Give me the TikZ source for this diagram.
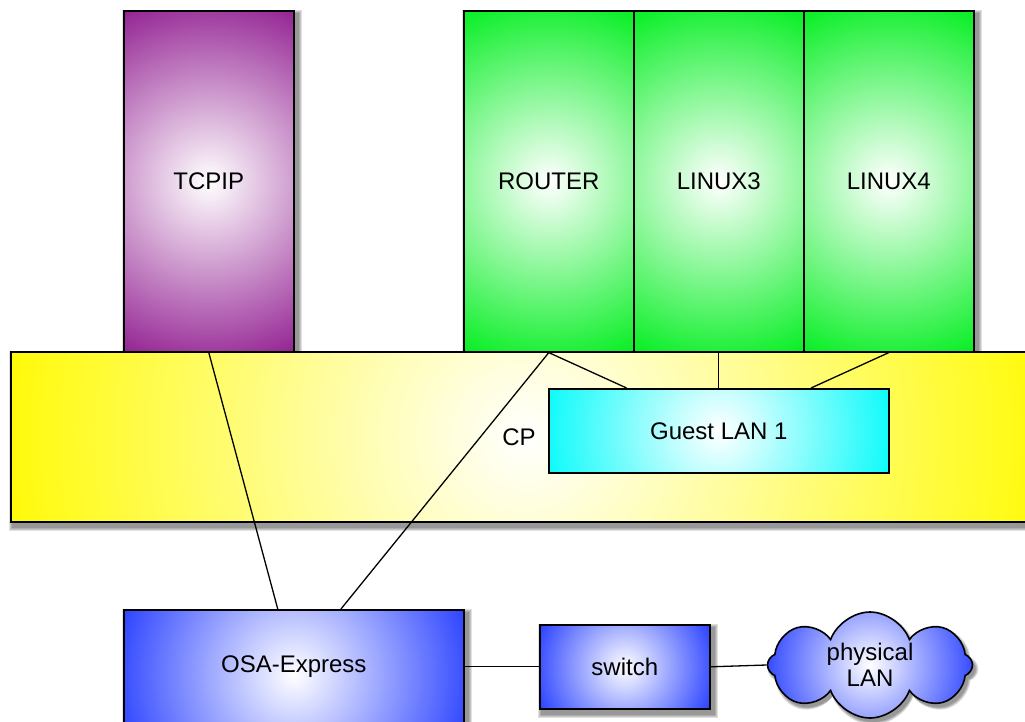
\documentclass[tikz,border=0pt]{standalone}
\usepackage{fontspec}
\setmainfont{Liberation Sans}
\usepackage{xcolor}
\usepackage{tikz}
\usetikzlibrary{calc,backgrounds,shapes.symbols}

\definecolor{vmpurple}{RGB}{145,30,145}
\definecolor{vmgreen}{RGB}{0,238,30}
\definecolor{cpyellow}{RGB}{255,250,0}
\definecolor{lancyan}{RGB}{0,250,250}
\definecolor{hwblue}{RGB}{30,55,255}

\tikzset{
  box/.style={draw, line width=1.6pt, rectangle, inner sep=0pt, anchor=north west,
    font=\fontsize{24}{28}\selectfont},
  glow/.style 2 args={box, fill=#1, path picture={
    \shade[inner color=white, outer color=#1] (path picture bounding box.center) circle (#2);}},
  puffy/.style={cloud, cloud puffs=8, cloud puff arc=140, aspect=2, inner sep=0pt},
  wire/.style={line width=1.3pt},
  softshadow/.style={fill=black, opacity=0.12}
}

\begin{document}
\begin{tikzpicture}[x=1pt, y=-1pt]
\useasboundingbox (0,0) rectangle (1025,722);

% guests
\node[glow={vmpurple}{195}, minimum width=170pt, minimum height=341pt] (tcpip) at (123,10) {TCPIP};
\node[glow={vmgreen}{195}, minimum width=170pt, minimum height=341pt] (router) at (463,10) {ROUTER};
\node[glow={vmgreen}{195}, minimum width=170pt, minimum height=341pt] (linuxc) at (633,10) {LINUX3};
\node[glow={vmgreen}{195}, minimum width=170pt, minimum height=341pt] (linuxd) at (803,10) {LINUX4};

% control program
\node[glow={cpyellow}{540}, minimum width=1030pt, minimum height=170pt] (cp) at (10,351) {};
\node[font=\fontsize{24}{28}\selectfont] (cplabel) at (519,437) {CP};
\node[glow={lancyan}{185}, minimum width=340pt, minimum height=84pt] (guestlan) at (548,388) {Guest LAN 1};

% hardware
\node[glow={hwblue}{195}, minimum width=340pt, minimum height=130pt, text depth=21pt] (osa) at (123,609) {OSA-Express};
\node[glow={hwblue}{100}, minimum width=170pt, minimum height=84pt] (switch) at (539,624) {switch};
\node[puffy, draw, line width=1.6pt, fill=hwblue,
  path picture={\shade[inner color=white, outer color=hwblue]
    (path picture bounding box.center) circle (115);},
  align=center, minimum width=205pt, minimum height=106pt,
  font=\fontsize{24}{26}\selectfont] (plan) at (870,665) {physical\\LAN};

\draw[wire] (tcpip.south) -- ($(osa.north west)!0.453!(osa.north east)$);
\draw[wire] (router.south) -- ($(osa.north west)!0.638!(osa.north east)$);
\draw[wire] (router.south) -- ($(guestlan.north west)!0.23!(guestlan.north east)$);
\draw[wire] (linuxc.south) -- (guestlan.north);
\draw[wire] (linuxd.south) -- ($(guestlan.north west)!0.77!(guestlan.north east)$);
\draw[wire] (osa.east |- switch.west) -- (switch.west);
\draw[wire] (switch.east) -- (plan.west);

% shadows
\begin{pgfonlayer}{background}
\foreach \n in {tcpip,router,linuxc,linuxd,cp,osa,switch}
  \foreach \g in {1,...,4}
    \fill[softshadow] ($(\n.north west)+(3-\g,4-\g)$) rectangle ($(\n.south east)+(3+\g,4+\g)$);
\foreach \g in {1,...,4}
  \node[puffy, softshadow, minimum width=203pt+2*\g pt, minimum height=104pt+2*\g pt]
    (planshadow) at ($(plan.center)+(3,4)$) {};
\end{pgfonlayer}
\end{tikzpicture}
\end{document}
